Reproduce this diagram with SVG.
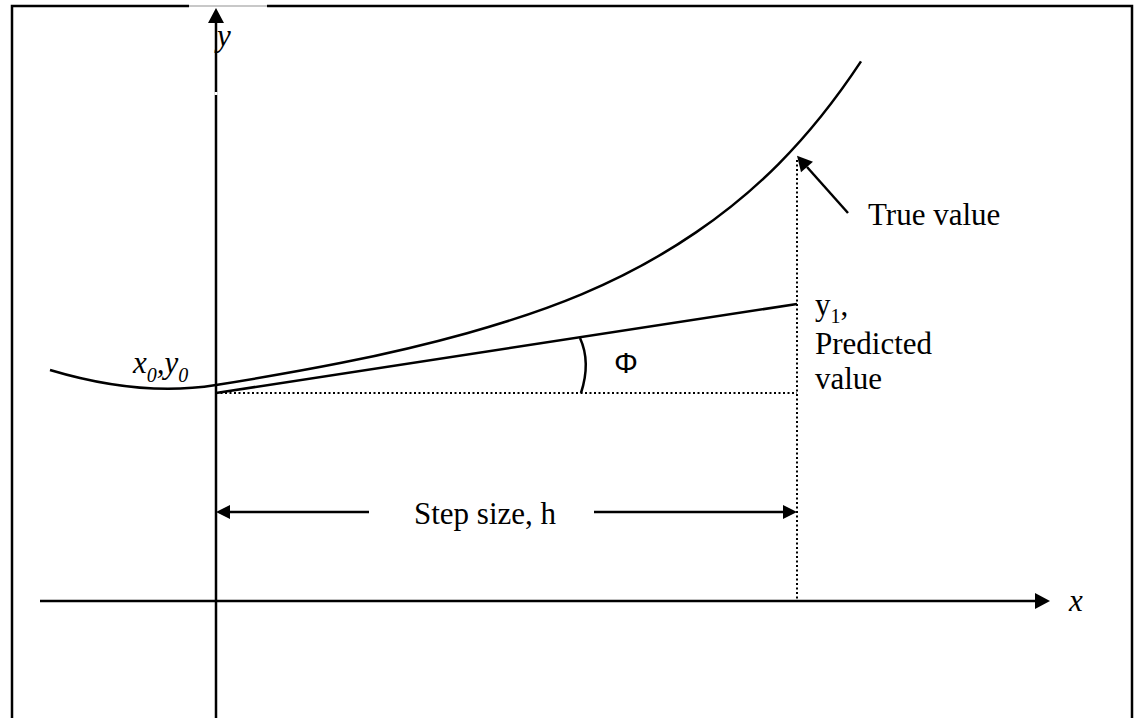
<svg xmlns="http://www.w3.org/2000/svg" width="1136" height="718" viewBox="0 0 1136 718">
  <style>
    .ln { stroke: #000; stroke-width: 2.5; fill: none; }
    .dot { stroke: #000; stroke-width: 2; fill: none; stroke-dasharray: 2 2.5; }
    .t { font-family: "Liberation Serif", "Times New Roman", serif; font-size: 31px; fill: #000; }
    .it { font-style: italic; }
    .sym { font-family: "Liberation Sans", Arial, sans-serif; font-size: 30px; fill: #000; }
  </style>
  <defs>
    <marker id="ah" markerUnits="userSpaceOnUse" markerWidth="16" markerHeight="16" refX="0" refY="8" orient="auto" overflow="visible">
      <path d="M0,0 L15,8 L0,16 Z" fill="#000"/>
    </marker>
    <marker id="ahs" markerUnits="userSpaceOnUse" markerWidth="14" markerHeight="14" refX="0" refY="7" orient="auto" overflow="visible">
      <path d="M0,0 L14,7 L0,14 Z" fill="#000"/>
    </marker>
  </defs>
  <rect width="1136" height="718" fill="#fff"/>

  <g id="frame">
    <path class="ln" d="M12,718 V6 H189"/>
    <path class="ln" d="M267,6 H1132 V718"/>
    <path d="M189,6 H267" stroke="#c8c8c8" stroke-width="2" fill="none"/>
  </g>

  <g id="axes">
    <line class="ln" x1="216" y1="718" x2="216" y2="23" marker-end="url(#ah)"/>
    <line x1="216" y1="92" x2="216" y2="95" stroke="#fff" stroke-width="3"/>
    <line class="ln" x1="40" y1="601" x2="1035" y2="601" marker-end="url(#ah)"/>
    <text class="t it" x="217" y="46">y</text>
    <text class="t it" x="1069" y="611">x</text>
  </g>

  <g id="curve">
    <path class="ln" d="M50,370 C100,385 160,394 216,385 C299.7,371.6 383.3,356.6 467,333.2 C543.3,311.9 619.7,284.5 696,232.4 C751,194.9 806,144.7 861,61.4"/>
    <text class="t it" x="133" y="373">x<tspan font-size="20" y="382">0</tspan><tspan y="373">,y</tspan><tspan font-size="20" y="382">0</tspan></text>
  </g>

  <g id="tangent">
    <line class="ln" x1="216" y1="393" x2="797" y2="304"/>
    <line class="dot" x1="216" y1="393" x2="797" y2="393"/>
    <line class="dot" x1="797" y1="160" x2="797" y2="601"/>
    <path class="ln" d="M580,338 Q591,362 581,393"/>
    <text class="sym" x="614" y="373">Φ</text>
  </g>

  <g id="connectors">
    <line class="ln" x1="848" y1="213" x2="807" y2="167" marker-end="url(#ah)"/>
    <line class="ln" x1="369" y1="512" x2="230" y2="512" marker-end="url(#ahs)"/>
    <line class="ln" x1="594" y1="512" x2="783" y2="512" marker-end="url(#ahs)"/>
  </g>

  <g id="labels">
    <text class="t" x="868" y="225">True value</text>
    <text class="t" x="815" y="315">y<tspan font-size="20" y="323">1</tspan><tspan y="315">,</tspan></text>
    <text class="t" x="815" y="354">Predicted</text>
    <text class="t" x="815" y="389">value</text>
    <text class="t" x="414" y="524">Step size, h</text>
  </g>
</svg>
